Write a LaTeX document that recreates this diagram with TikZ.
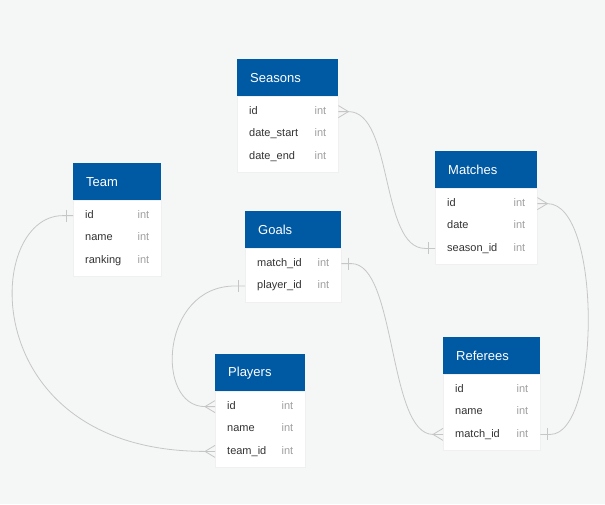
\documentclass[tikz,border=0pt]{standalone}
\usepackage{fontspec}
\setmainfont{Liberation Sans}
\usetikzlibrary{positioning,calc}
\definecolor{hdrblue}{RGB}{0,89,163}
\definecolor{canvas}{RGB}{245,246,246}
\definecolor{linegray}{RGB}{198,198,198}
\definecolor{typegray}{RGB}{160,160,160}
\definecolor{txtdark}{RGB}{51,51,51}
\newcommand\coltype{\textcolor{typegray}{int}}
% relation ends
\newcommand\crowfootE[1]{\draw[conn] ($(#1)+(0,-6)$) -- ($(#1)+(10,0)$) -- ($(#1)+(0,6)$);}
\newcommand\crowfootW[1]{\draw[conn] ($(#1)+(0,-6)$) -- ($(#1)+(-10,0)$) -- ($(#1)+(0,6)$);}
\newcommand\barE[1]{\draw[conn] ($(#1)+(7,-6)$) -- ($(#1)+(7,6)$);}
\newcommand\barW[1]{\draw[conn] ($(#1)+(-7,-6)$) -- ($(#1)+(-7,6)$);}

\begin{document}
\begin{tikzpicture}[
    x=1pt, y=-1pt, node distance=0pt,
    hdr/.style={rectangle, fill=hdrblue, text=white, anchor=north west,
                text width=#1, inner xsep=13pt, inner ysep=0pt, minimum height=37pt,
                font=\fontsize{13}{15}\selectfont},
    row/.style={rectangle, text width=#1, inner xsep=12pt, inner ysep=0pt,
                minimum height=22pt, text height=8pt, text depth=2.5pt,
                text=txtdark, font=\fontsize{11}{13}\selectfont},
    body/.style={fill=white, draw=black!6},
    conn/.style={draw=linegray, line width=0.8pt}]
\path[use as bounding box, fill=canvas] (0,0) rectangle (605,504);

% Seasons
\node[hdr=75pt] (seasons) at (237,59) {Seasons};
\path[body] (seasons.south west) rectangle ++(101,76);
\node[row=77pt, below=4pt of seasons] (seasons-id) {id\hfill\coltype};
\node[row=77pt, below=of seasons-id] (seasons-start) {date\_start\hfill\coltype};
\node[row=77pt, below=of seasons-start] (seasons-end) {date\_end\hfill\coltype};

% Team
\node[hdr=62pt] (team) at (73,163) {Team};
\path[body] (team.south west) rectangle ++(88,76);
\node[row=64pt, below=4pt of team] (team-id) {id\hfill\coltype};
\node[row=64pt, below=of team-id] (team-name) {name\hfill\coltype};
\node[row=64pt, below=of team-name] (team-ranking) {ranking\hfill\coltype};

% Goals
\node[hdr=70pt] (goals) at (245,211) {Goals};
\path[body] (goals.south west) rectangle ++(96,54);
\node[row=72pt, below=4pt of goals] (goals-match) {match\_id\hfill\coltype};
\node[row=72pt, below=of goals-match] (goals-player) {player\_id\hfill\coltype};

% Matches
\node[hdr=76pt] (matches) at (435,151) {Matches};
\path[body] (matches.south west) rectangle ++(102,76);
\node[row=78pt, below=4pt of matches] (matches-id) {id\hfill\coltype};
\node[row=78pt, below=of matches-id] (matches-date) {date\hfill\coltype};
\node[row=78pt, below=of matches-date] (matches-season) {season\_id\hfill\coltype};

% Players
\node[hdr=64pt] (players) at (215,354) {Players};
\path[body] (players.south west) rectangle ++(90,76);
\node[row=66pt, below=4pt of players] (players-id) {id\hfill\coltype};
\node[row=66pt, below=of players-id] (players-name) {name\hfill\coltype};
\node[row=66pt, below=of players-name] (players-team) {team\_id\hfill\coltype};

% Referees
\node[hdr=71pt] (referees) at (443,337) {Referees};
\path[body] (referees.south west) rectangle ++(97,76);
\node[row=73pt, below=4pt of referees] (referees-id) {id\hfill\coltype};
\node[row=73pt, below=of referees-id] (referees-name) {name\hfill\coltype};
\node[row=73pt, below=of referees-name] (referees-match) {match\_id\hfill\coltype};

% relations
\draw[conn] (seasons-id.east) -- ++(10,0) .. controls +(45,0) and +(-45,0) .. ($(matches-season.west)+(-10,0)$) -- (matches-season.west);
\draw[conn] (team-id.west) -- ++(-10,0) .. controls +(-80,0) and +(-230,0) .. ($(players-team.west)+(-10,0)$) -- (players-team.west);
\draw[conn] (goals-player.west) -- ++(-10,0) .. controls +(-75,0) and +(-50,0) .. ($(players-id.west)+(-10,0)$) -- (players-id.west);
\draw[conn] (goals-match.east) -- ++(10,0) .. controls +(45,0) and +(-45,0) .. ($(referees-match.west)+(-10,0)$) -- (referees-match.west);
\draw[conn] (matches-id.east) -- ++(10,0) .. controls +(55,0) and +(50,0) .. ($(referees-match.east)+(10,0)$) -- (referees-match.east);
\crowfootE{seasons-id.east} \barW{matches-season.west}
\barW{team-id.west} \crowfootW{players-team.west}
\barW{goals-player.west} \crowfootW{players-id.west}
\barE{goals-match.east} \crowfootW{referees-match.west}
\crowfootE{matches-id.east} \barE{referees-match.east}
\end{tikzpicture}
\end{document}
